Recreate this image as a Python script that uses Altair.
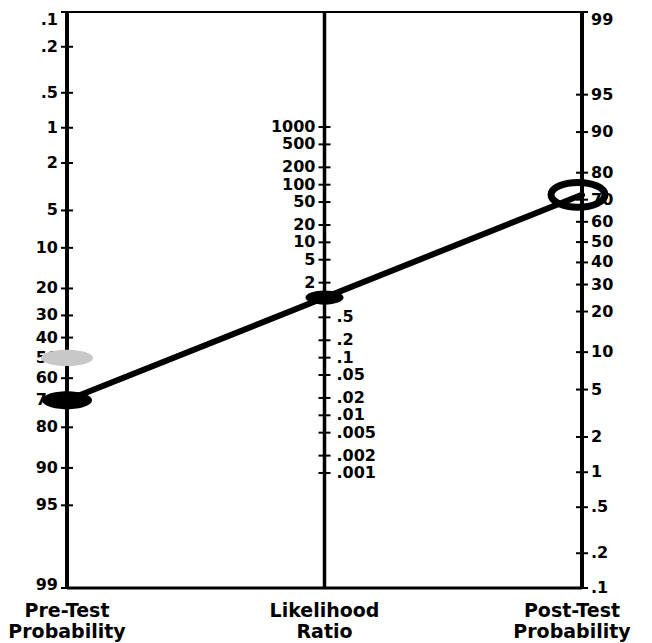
import altair as alt
import pandas as pd

# ---- data (Fagan nomogram) ----
pre_labels = [".1", ".2", ".5", "1", "2", "5", "10", "20", "30", "40", "50",
              "60", "70", "80", "90", "95", "99"]
post_labels = ["99", "95", "90", "80", "70", "60", "50", "40", "30", "20",
               "10", "5", "2", "1", ".5", ".2", ".1"]
lr_labels = ["1000", "500", "200", "100", "50", "20", "10", "5", "2", "1",
             ".5", ".2", ".1", ".05", ".02", ".01", ".005", ".002", ".001"]

pre_test_prob = 70      # black dot on left scale (%)
prior_marker = 50       # grey marker on left scale (%)
likelihood_ratio = 1.1  # dot on middle scale
post_test_prob = 72     # ring on right scale (%)

titles_left = ["Pre-Test\nProbability", "Likelihood\nRatio"]
title_right = ["Post-Test\nProbability"]

FONT = "DejaVu Sans"
UMAX = 11.5019  # log(999) + log(99)

xs = alt.Scale(domain=[0, 1], range=[59, 574])
ys = alt.Scale(domain=[0, UMAX], range=[4, 580])


def X(field=None, datum=None):
    if datum is not None:
        return alt.X(datum=datum, type="quantitative", scale=xs, axis=None)
    return alt.X(field, type="quantitative", scale=xs, axis=None)


def Y(field=None, datum=None):
    if datum is not None:
        return alt.Y(datum=datum, type="quantitative", scale=ys, axis=None)
    return alt.Y(field, type="quantitative", scale=ys, axis=None)


def ellipse(r):
    k = 0.5523
    return (f"M-1,0C-1,{-k*r:.3f},{-k:.3f},{-r:.3f},0,{-r:.3f}"
            f"C{k:.3f},{-r:.3f},1,{-k*r:.3f},1,0"
            f"C1,{k*r:.3f},{k:.3f},{r:.3f},0,{r:.3f}"
            f"C{-k:.3f},{r:.3f},-1,{k*r:.3f},-1,0Z")


LEFT_U = "log(datum.p/(100-datum.p)) + log(999)"
RIGHT_U = "log(99) - log(datum.p/(100-datum.p))"
MID_U = f"{UMAX/2} - log(datum.v)/2"

label_style = dict(font=FONT, fontWeight="bold", fontSize=16, color="black",
                   baseline="middle")

# left scale
left_df = pd.DataFrame({"label": pre_labels})
left_base = alt.Chart(left_df).transform_calculate(
    p="toNumber(datum.label)").transform_calculate(u=LEFT_U)
left_ticks = left_base.mark_tick(orient="horizontal", size=12, thickness=2,
                                 color="black", opacity=1).encode(
    x=X(datum=0), y=Y("u"))
left_text = left_base.transform_calculate(
    tu="min(max(datum.u, 0.15), 11.44)").mark_text(
    align="right", dx=-9, **label_style).encode(
    x=X(datum=0), y=Y("tu"), text="label:N")

# right scale
right_df = pd.DataFrame({"label": post_labels})
right_base = alt.Chart(right_df).transform_calculate(
    p="toNumber(datum.label)").transform_calculate(u=RIGHT_U)
right_ticks = right_base.mark_tick(orient="horizontal", size=12, thickness=2,
                                   color="black", opacity=1).encode(
    x=X(datum=1), y=Y("u"))
right_text = right_base.transform_calculate(
    tu="min(max(datum.u, 0.16), 11.6)").mark_text(
    align="left", dx=9, **label_style).encode(
    x=X(datum=1), y=Y("tu"), text="label:N")

# middle scale
mid_df = pd.DataFrame({"label": lr_labels})
mid_base = alt.Chart(mid_df).transform_calculate(
    v="toNumber(datum.label)").transform_calculate(u=MID_U)
mid_ticks = mid_base.mark_tick(orient="horizontal", size=12, thickness=2,
                               color="black", opacity=1).encode(
    x=X(datum=0.5), y=Y("u"))
mid_text_hi = mid_base.transform_filter("datum.v > 1").mark_text(
    align="right", dx=-9, **label_style).encode(
    x=X(datum=0.5), y=Y("u"), text="label:N")
mid_text_lo = mid_base.transform_filter("datum.v < 1").mark_text(
    align="left", dx=12, **label_style).encode(
    x=X(datum=0.5), y=Y("u"), text="label:N")

# axis lines and frame
dummy = pd.DataFrame({"a": [0]})
ax_left = alt.Chart(dummy).mark_rule(color="black", strokeWidth=4).encode(
    x=X(datum=0), y=Y(datum=0), y2=alt.Y2(datum=UMAX))
ax_mid = alt.Chart(dummy).mark_rule(color="black", strokeWidth=3.5).encode(
    x=X(datum=0.5), y=Y(datum=0), y2=alt.Y2(datum=UMAX))
ax_right = alt.Chart(dummy).mark_rule(color="black", strokeWidth=4).encode(
    x=X(datum=1), y=Y(datum=0), y2=alt.Y2(datum=UMAX))
ax_top = alt.Chart(dummy).mark_rule(color="black", strokeWidth=2).encode(
    x=X(datum=0), x2=alt.X2(datum=1), y=Y(datum=0))
ax_bottom = alt.Chart(dummy).mark_rule(color="black", strokeWidth=3).encode(
    x=X(datum=0), x2=alt.X2(datum=1), y=Y(datum=UMAX))

# nomogram line
line_df = pd.DataFrame({"side": [0, 1], "p": [pre_test_prob, post_test_prob]})
line = alt.Chart(line_df).transform_calculate(
    u=f"datum.side == 0 ? ({LEFT_U}) : ({RIGHT_U})").mark_line(
    color="black", strokeWidth=6, strokeCap="round").encode(
    x=X("side"), y=Y("u"))

# markers
prior_dot = alt.Chart(pd.DataFrame({"p": [prior_marker]})).transform_calculate(
    u=LEFT_U).mark_point(shape=ellipse(0.31), size=2704, filled=True,
                         color="#c8c8c8", opacity=1).encode(
    x=X(datum=0), y=Y("u"))
pre_dot = alt.Chart(pd.DataFrame({"p": [pre_test_prob]})).transform_calculate(
    u=LEFT_U).mark_point(shape=ellipse(0.36), size=2500, filled=True,
                         color="black", opacity=1).encode(
    x=X(datum=0), y=Y("u"))
lr_dot = alt.Chart(pd.DataFrame({"v": [likelihood_ratio]})).transform_calculate(
    u=MID_U).mark_point(shape=ellipse(0.37), size=1444, filled=True,
                        color="black", opacity=1).encode(
    x=X(datum=0.5), y=Y("u"))
post_ring = alt.Chart(pd.DataFrame({"p": [post_test_prob]})).transform_calculate(
    u=RIGHT_U).mark_point(shape=ellipse(0.46), size=2916, filled=False,
                          color="black", strokeWidth=7, opacity=1,
                          xOffset=-4).encode(
    x=X(datum=1), y=Y("u"))

# bottom titles
title_style = dict(font=FONT, fontWeight="bold", fontSize=19, color="black",
                   align="center", baseline="alphabetic", lineBreak="\n",
                   lineHeight=21)
tl_df = pd.DataFrame({"side": [0, 0.5], "t": titles_left})
titles_a = alt.Chart(tl_df).mark_text(**title_style).encode(
    x=X("side"), y=alt.value(609), text="t:N")
tr_df = pd.DataFrame({"side": [1], "t": title_right})
titles_b = alt.Chart(tr_df).mark_text(dx=-10, **title_style).encode(
    x=X("side"), y=alt.value(609), text="t:N")

chart = alt.layer(
    left_text, right_text, mid_text_hi, mid_text_lo,
    ax_top, ax_bottom, ax_left, ax_mid, ax_right,
    left_ticks, right_ticks, mid_ticks,
    line, prior_dot, pre_dot, lr_dot, post_ring,
    titles_a, titles_b,
).properties(
    width=636, height=635,
    autosize=alt.AutoSizeParams(type="none"),
    padding=0, background="white",
).configure_view(stroke=None)

chart.save("out.html", embed_options={"renderer": "svg", "actions": False})
